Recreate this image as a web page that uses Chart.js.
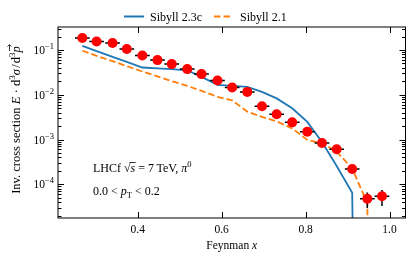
<!DOCTYPE html>
<html>
<head>
<meta charset="utf-8">
<script src="https://cdn.jsdelivr.net/npm/chart.js@4.4.1/dist/chart.umd.min.js"></script>
<style>
  html, body { margin: 0; padding: 0; background: #fff; }
  #wrap { width: 415px; height: 261px; }
</style>
</head>
<body>
<div id="wrap"><canvas id="chart" width="415" height="261"></canvas></div>
<script>
// LHCf pi0, 7 TeV, 0.0 < pT < 0.2
const xF = [0.268, 0.302, 0.340, 0.374, 0.411, 0.447, 0.481, 0.518, 0.552, 0.590, 0.625,
            0.661, 0.696, 0.731, 0.768, 0.804, 0.839, 0.874, 0.911, 0.947, 0.982];
const lhcfY = [0.185, 0.155, 0.143, 0.105, 0.0753, 0.0594, 0.0484, 0.0374, 0.0289, 0.0208, 0.0145,
               0.0116, 0.00556, 0.00368, 0.00242, 0.00150, 0.000839, 0.000607, 0.00022, 4.76e-5, 5.4e-5];
const lhcfYErr = [0.006, 0.005, 0.004, 0.003, 0.002, 0.0015, 0.0012, 0.001, 0.0008, 0.0006, 0.0004,
                  0.0003, 0.00017, 0.00011, 0.00008, 0.00006, 0.00004, 0.00004, 0.00003, 1.8e-5, 2.1e-5];
const xHalfBin = 0.0175;

// model curves (0 past the last bin -> line falls off the log axis)
const sib23cX = xF.slice(0, 20);
const sib23cY = [0.124, 0.094, 0.0705, 0.0542, 0.0406, 0.039, 0.0374, 0.0352, 0.0251, 0.0166, 0.0158,
                 0.0150, 0.0116, 0.0083, 0.0050, 0.00248, 0.000883, 0.000256, 6.5e-5, 0];
const sib21X = xF.slice();
const sib21Y = [0.096, 0.0741, 0.0564, 0.0436, 0.0331, 0.0258, 0.0202, 0.0158, 0.0122, 0.00897, 0.0075,
                0.00421, 0.00321, 0.00254, 0.00177, 0.00098, 0.000826, 0.000536, 0.000226, 3.76e-5, 0];

const xTicks = [0.4, 0.6, 0.8, 1.0];
const yTicks = [1e-1, 1e-2, 1e-3, 1e-4];
const yExps = ['\u22121', '\u22122', '\u22123', '\u22124'];

const SERIF = '"Liberation Serif", "DejaVu Serif", serif';
const f = (size, style) => (style ? style + ' ' : '') + size + 'px ' + SERIF;

// 0 is not drawable on a log axis: use a tiny value so the line drops off the bottom
const toPts = (xs, ys) => xs.map((x, i) => ({ x: x, y: ys[i] > 0 ? ys[i] : 1e-30 }));

// draws a list of text pieces one after the other
function drawRich(ctx, segs, x, y, align) {
    let total = 0;
    segs.forEach(s => { ctx.font = s.font; total += ctx.measureText(s.t).width + (s.gap || 0); });
    let cx = align === 'center' ? x - total / 2 : x;
    segs.forEach(s => {
        ctx.font = s.font;
        const w = ctx.measureText(s.t).width;
        ctx.fillText(s.t, cx, y + (s.dy || 0));
        if (s.over) {
            ctx.beginPath();
            ctx.lineWidth = 0.8;
            ctx.moveTo(cx - 1, y - s.over);
            ctx.lineTo(cx + w + 0.5, y - s.over);
            ctx.stroke();
        }
        if (s.arrow) {
            const ay = y - s.arrow;
            ctx.beginPath();
            ctx.lineWidth = 0.8;
            ctx.moveTo(cx + 1.5, ay);
            ctx.lineTo(cx + w + 1.5, ay);
            ctx.moveTo(cx + w - 0.5, ay - 2);
            ctx.lineTo(cx + w + 1.5, ay);
            ctx.lineTo(cx + w - 0.5, ay + 2);
            ctx.stroke();
        }
        cx += w + (s.gap || 0);
    });
}

// error bars of the LHCf points, drawn just before the markers
const errorBars = {
    id: 'errorBars',
    beforeDatasetDraw(chart, args) {
        if (args.index !== 0) return;
        const ctx = chart.ctx, sx = chart.scales.x, sy = chart.scales.y;
        ctx.save();
        ctx.strokeStyle = '#000';
        ctx.lineWidth = 1.5;
        ctx.beginPath();
        xF.forEach((x, i) => {
            const px = sx.getPixelForValue(x), py = sy.getPixelForValue(lhcfY[i]);
            ctx.moveTo(sx.getPixelForValue(x - xHalfBin), py);
            ctx.lineTo(sx.getPixelForValue(x + xHalfBin), py);
            const lo = Math.max(lhcfY[i] - lhcfYErr[i], 1e-30);
            ctx.moveTo(px, sy.getPixelForValue(lhcfY[i] + lhcfYErr[i]));
            ctx.lineTo(px, Math.min(sy.getPixelForValue(lo), chart.chartArea.bottom));
        });
        ctx.stroke();
        ctx.restore();
    }
};

// matplotlib-like frame: inward ticks on all sides, labels, legend, annotations
const frame = {
    id: 'frame',
    afterDraw(chart) {
        const ctx = chart.ctx, a = chart.chartArea;
        const sx = chart.scales.x, sy = chart.scales.y;
        ctx.save();
        ctx.strokeStyle = '#000';
        ctx.fillStyle = '#000';
        ctx.lineWidth = 1;
        ctx.strokeRect(a.left, a.top, a.right - a.left, a.bottom - a.top);

        ctx.beginPath();
        xTicks.forEach(v => {
            const px = Math.round(sx.getPixelForValue(v)) + 0.5;
            ctx.moveTo(px, a.bottom); ctx.lineTo(px, a.bottom - 6);
            ctx.moveTo(px, a.top); ctx.lineTo(px, a.top + 6);
        });
        for (let e = -5; e <= 0; e++) {
            for (let k = 1; k <= 9; k++) {
                const v = k * Math.pow(10, e);
                if (v < sy.min || v > sy.max) continue;
                const py = Math.round(sy.getPixelForValue(v)) + 0.5;
                const len = k === 1 ? 6 : 3.5;
                ctx.moveTo(a.left, py); ctx.lineTo(a.left + len, py);
                ctx.moveTo(a.right, py); ctx.lineTo(a.right - len, py);
            }
        }
        ctx.stroke();

        // x tick labels
        ctx.font = f(11.5);
        ctx.textAlign = 'center';
        ctx.textBaseline = 'alphabetic';
        xTicks.forEach(v => ctx.fillText(v.toFixed(1), sx.getPixelForValue(v), a.bottom + 15));

        // y tick labels 10^n
        ctx.textAlign = 'left';
        yTicks.forEach((v, i) => {
            const py = sy.getPixelForValue(v);
            ctx.font = f(8.5);
            const we = ctx.measureText(yExps[i]).width;
            ctx.font = f(11.5);
            const wb = ctx.measureText('10').width;
            const x0 = a.left - 4 - we - wb;
            ctx.fillText('10', x0, py + 4);
            ctx.font = f(8.5);
            ctx.fillText(yExps[i], x0 + wb, py - 1);
        });

        // axis titles
        drawRich(ctx, [
            { t: 'Feynman ', font: f(11.5) },
            { t: 'x', font: f(11.5, 'italic') }
        ], (a.left + a.right) / 2, 249, 'center');

        ctx.save();
        ctx.translate(20, 119);
        ctx.rotate(-Math.PI / 2);
        drawRich(ctx, [
            { t: 'Inv. cross section ', font: f(12.5) },
            { t: 'E', font: f(12.5, 'italic'), gap: 3.5 },
            { t: '\u00b7', font: f(12.5), gap: 3 },
            { t: 'd', font: f(12.5) },
            { t: '3', font: f(9), dy: -5 },
            { t: '\u03c3', font: f(12.5, 'italic'), gap: 1.5 },
            { t: '/', font: f(12.5), gap: 1 },
            { t: 'd', font: f(12.5) },
            { t: '3', font: f(9), dy: -5 },
            { t: 'p', font: f(12.5, 'italic'), arrow: 10.5, gap: 2 }
        ], 0, 0, 'center');
        ctx.restore();

        // legend
        const ds = chart.data.datasets;
        ctx.lineWidth = 2;
        ctx.strokeStyle = ds[1].borderColor;
        ctx.beginPath(); ctx.moveTo(124, 16.5); ctx.lineTo(144, 16.5); ctx.stroke();
        ctx.strokeStyle = ds[2].borderColor;
        ctx.setLineDash(ds[2].borderDash);
        ctx.beginPath(); ctx.moveTo(214, 16.5); ctx.lineTo(233, 16.5); ctx.stroke();
        ctx.setLineDash([]);
        ctx.font = f(12);
        ctx.fillText(ds[1].label, 150, 20.5);
        ctx.fillText(ds[2].label, 240, 20.5);

        // annotation
        ctx.strokeStyle = '#000';
        drawRich(ctx, [
            { t: 'LHCf ', font: f(12) },
            { t: '\u221a', font: f(12) },
            { t: 's', font: f(12, 'italic'), over: 9.5 },
            { t: ' = 7\u2009TeV, ', font: f(12) },
            { t: '\u03c0', font: f(12, 'italic') },
            { t: '0', font: f(8.5), dy: -5 }
        ], 93, 172, 'left');
        drawRich(ctx, [
            { t: '0.0 < ', font: f(12) },
            { t: 'p', font: f(12, 'italic') },
            { t: 'T', font: f(8.5), dy: 2.5 },
            { t: ' < 0.2', font: f(12) }
        ], 93, 195, 'left');
        ctx.restore();
    }
};

new Chart(document.getElementById('chart'), {
    type: 'scatter',
    data: {
        datasets: [{
            label: 'LHCf',
            data: toPts(xF, lhcfY),
            backgroundColor: '#ff0000',
            borderWidth: 0,
            pointRadius: 5,
            pointHoverRadius: 5,
            clip: false,
            order: 0
        }, {
            label: 'Sibyll 2.3c',
            data: toPts(sib23cX, sib23cY),
            showLine: true,
            borderColor: '#1f77b4',
            borderWidth: 1.8,
            pointRadius: 0,
            tension: 0,
            clip: 0,
            order: 1
        }, {
            label: 'Sibyll 2.1',
            data: toPts(sib21X, sib21Y),
            showLine: true,
            borderColor: '#ff7f0e',
            borderWidth: 1.8,
            borderDash: [6.5, 3],
            pointRadius: 0,
            tension: 0,
            clip: 0,
            order: 2
        }]
    },
    options: {
        responsive: false,
        devicePixelRatio: 1,
        animation: false,
        layout: { padding: { left: 58, right: 9.5, top: 27, bottom: 43 } },
        scales: {
            x: { type: 'linear', min: 0.21, max: 1.038, display: false },
            y: { type: 'logarithmic', min: 1.77e-5, max: 0.326, display: false }
        },
        plugins: {
            legend: { display: false },
            tooltip: { enabled: false }
        }
    },
    plugins: [errorBars, frame]
});
</script>
</body>
</html>
